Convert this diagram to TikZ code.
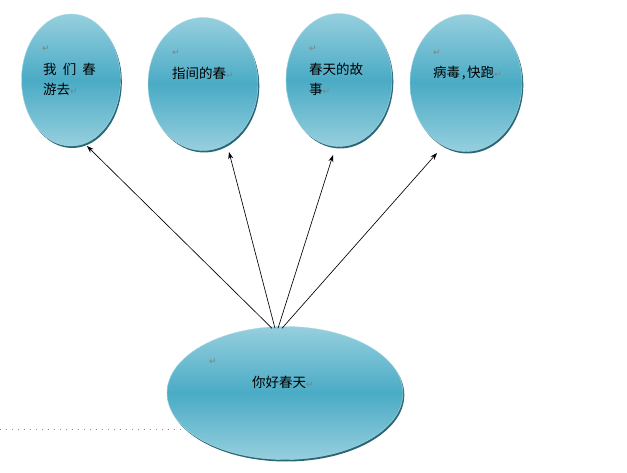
\documentclass[tikz,border=0pt]{standalone}
\usepackage{fontspec}
\newfontfamily\cjk{Noto Sans CJK SC}
\newfontfamily\symf{DejaVu Sans}
\usetikzlibrary{shapes.geometric,arrows.meta,calc}
\definecolor{ltop}{HTML}{96CFDE}
\definecolor{lmid}{HTML}{4AABC5}
\definecolor{shd}{HTML}{2A6878}
\definecolor{markc}{HTML}{808080}
\definecolor{dotc}{HTML}{8090B8}
\newcommand\parmark{{\symf\color{markc}\fontsize{9}{9}\selectfont ↵}}
\tikzset{
  bubble/.style={ellipse, inner sep=0pt, top color=ltop, bottom color=ltop, middle color=lmid, draw=ltop!80!white, line width=0.4pt},
  bubshadow/.style={ellipse, inner sep=0pt, fill=shd},
  txt/.style={font=\cjk\fontsize{13.5}{19.5}\selectfont, inner sep=0pt, anchor=west, align=left},
  pmark/.style={font=\symf\fontsize{9}{9}\selectfont, text=markc, inner sep=0pt},
  conn/.style={-{Stealth[length=7pt,width=5pt]}, line width=0.65pt, black},
  dotline/.style={dotc, line width=0.7pt, dash pattern=on 0.8pt off 5.2pt}
}
\begin{document}
\begin{tikzpicture}[x=1pt,y=-1pt]
\useasboundingbox (0,0) rectangle (627,473);
% dotted line
\draw[dotline] (0,429) -- (186,429);
% shadows
\node[bubshadow, minimum width=99pt, minimum height=132pt] (e1s) at (72.3,82) {};
\node[bubshadow, minimum width=110pt, minimum height=133pt] (e2s) at (204.3,86) {};
\node[bubshadow, minimum width=106pt, minimum height=133pt] (e3s) at (340.3,82) {};
\node[bubshadow, minimum width=112pt, minimum height=137pt] (e4s) at (467.3,85) {};
\node[bubshadow, minimum width=236pt, minimum height=133pt] (e5s) at (286.3,395) {};
% ellipses
\node[bubble, minimum width=99pt, minimum height=132pt] (e1) at (71,80) {};
\node[bubble, minimum width=110pt, minimum height=133pt] (e2) at (203,84) {};
\node[bubble, minimum width=106pt, minimum height=133pt] (e3) at (339,80) {};
\node[bubble, minimum width=112pt, minimum height=137pt] (e4) at (466,83) {};
\node[bubble, minimum width=236pt, minimum height=133pt] (e5) at (285,393) {};
% paragraph marks
\node[pmark] (m1) at (46,49) {↵};
\node[pmark] (m2) at (176,53) {↵};
\node[pmark] (m3) at (313,49) {↵};
\node[pmark] (m4) at (437,53) {↵};
\node[pmark] (m5) at (213,362) {↵};
% texts
\node[txt] (t1) at (43,79.5) {我\hspace{0.45em}们\hspace{0.45em}春\\游去\parmark};
\node[txt] (t2) at (172,73) {指间的春\parmark};
\node[txt] (t3) at (309,79.5) {春天的故\\事\parmark};
\node[txt] (t4) at (433,73) {病毒\hspace{0.12em},\hspace{0.12em}快跑\parmark};
\node[txt] (t5) at (252,382) {你好春天\parmark};
% connector ends
\coordinate (b1) at ($(e5.north)+(-13,2)$);
\coordinate (b2) at ($(e5.north)+(-10,2)$);
\coordinate (b3) at ($(e5.north)+(-7,2)$);
\coordinate (b4) at ($(e5.north)+(-3,2)$);
\coordinate (a1) at ($(e1.center)+(16,66)$);
\coordinate (a2) at ($(e2.center)+(26,68)$);
\coordinate (a3) at ($(e3.center)+(-6,75)$);
\coordinate (a4) at ($(e4.center)+(-29,70)$);
\draw[conn] (b1) -- (a1);
\draw[conn] (b2) -- (a2);
\draw[conn] (b3) -- (a3);
\draw[conn] (b4) -- (a4);
\end{tikzpicture}
\end{document}
